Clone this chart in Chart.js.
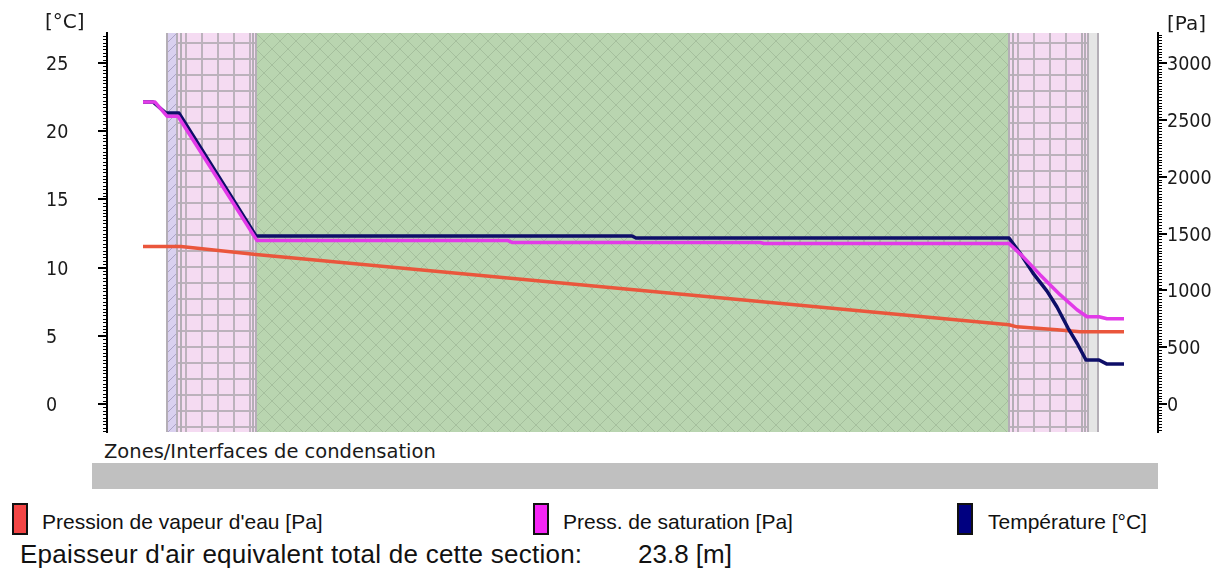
<!DOCTYPE html>
<html>
<head>
<meta charset="utf-8">
<script src="https://cdn.jsdelivr.net/npm/chart.js@4.4.1/dist/chart.umd.min.js"></script>
<style>
html,body{margin:0;padding:0;background:#fff;}
#wrap{position:relative;width:1224px;height:569px;overflow:hidden;background:#fff;}
#c{position:absolute;left:0;top:0;}
.t{position:absolute;white-space:nowrap;color:#1a1a1a;line-height:1;}
.ax{font-family:'DejaVu Sans',sans-serif;font-size:20px;}
.lg{font-family:'Liberation Sans',Arial,sans-serif;font-size:21px;color:#111;}
.sw{position:absolute;width:12px;height:28px;border:2px solid #111;}
#bar{position:absolute;left:92px;top:463px;width:1066px;height:26px;background:#c0c0c0;}
</style>
</head>
<body>
<div id="wrap">
  <canvas id="c" width="1224" height="440"></canvas>
  <div class="t ax" style="left:45px;top:11px;">[°C]</div>
  <div class="t ax" style="left:1167px;top:13px;">[Pa]</div>
  <div class="t ax" style="left:104px;top:442px;font-size:19.5px;">Zones/Interfaces de condensation</div>
  <div id="bar"></div>
  <div class="sw" style="left:12px;top:503px;background:#f24545;"></div>
  <div class="t lg" style="left:42px;top:511px;">Pression de vapeur d'eau [Pa]</div>
  <div class="sw" style="left:533px;top:503px;background:#f626f6;"></div>
  <div class="t lg" style="left:563px;top:511px;">Press. de saturation [Pa]</div>
  <div class="sw" style="left:957px;top:503px;background:#000080;"></div>
  <div class="t lg" style="left:988px;top:511px;">Température [°C]</div>
  <div class="t lg" style="left:20px;top:541px;font-size:26px;letter-spacing:0.25px;">Epaisseur d'air equivalent total de cette section:</div>
  <div class="t lg" style="left:638px;top:541px;font-size:26px;">23.8 [m]</div>
</div>
<script>
// ---- data (positions along the wall section, arbitrary units) ----
const posTemp = [36, 46, 59, 72, 149, 525, 529, 902, 913, 926, 940, 950, 961, 971, 979, 992, 1000, 1017];
const tempC   = [22.14, 22.14, 21.33, 21.33, 12.32, 12.32, 12.17, 12.17, 11.07, 9.60, 8.28, 7.11, 5.57, 4.33, 3.23, 3.23, 2.93, 2.93];

const posSat  = [36, 48, 60, 71, 150, 401, 405, 653, 657, 902, 916, 933, 953, 970, 980, 992, 1000, 1017];
const satPa   = [2656, 2656, 2532, 2532, 1438, 1438, 1421, 1421, 1412, 1412, 1297, 1138, 962, 829, 768, 768, 750, 750];

const posVap  = [36, 74, 149, 902, 910, 950, 973, 1017];
const vapPa   = [1385, 1385, 1315, 697, 679, 653, 635, 635];

const layerEdges = [60, 70, 74, 146, 149, 902, 906, 975, 978, 981, 991];
const layerKinds = ['hatch', 'grid', 'grid', 'grid', 'cross', 'grid', 'grid', 'grid', 'grid', 'plain'];

const ticksC  = [0, 5, 10, 15, 20, 25];
const ticksPa = [0, 500, 1000, 1500, 2000, 2500, 3000];
const minorC  = 0.25;
const minorPa = 25;

const xRange  = [0, 1051];
const cRange  = [-2.05, 27.2];
const paRange = [-246, 3264];

function pts(xs, ys) { return xs.map((x, i) => ({ x: x, y: ys[i] })); }

// ---- styles ----
const tickFont = { family: "'DejaVu Sans Condensed','DejaVu Sans',sans-serif", size: 19.5 };

function makePattern(ctx, kind) {
  const c = document.createElement('canvas');
  let w = 16;
  if (kind === 'hatch') w = 10;
  if (kind === 'plain') w = 4;
  c.width = w; c.height = w;
  const g = c.getContext('2d');
  if (kind === 'grid') {
    g.fillStyle = '#f5dbf2'; g.fillRect(0, 0, 16, 16);
    g.fillStyle = '#bcb2bc'; g.fillRect(0, 0, 2, 16); g.fillRect(0, 0, 16, 2);
  } else if (kind === 'hatch') {
    g.fillStyle = '#d9d0ef'; g.fillRect(0, 0, 10, 10);
    g.strokeStyle = '#aca3c6'; g.lineWidth = 1;
    g.beginPath(); g.moveTo(0, 10); g.lineTo(10, 0); g.moveTo(-1, 1); g.lineTo(1, -1); g.moveTo(9, 11); g.lineTo(11, 9); g.stroke();
  } else if (kind === 'cross') {
    g.fillStyle = '#b9d5b0'; g.fillRect(0, 0, 16, 16);
    g.strokeStyle = '#a5bf9d'; g.lineWidth = 1;
    g.beginPath(); g.moveTo(0, 0); g.lineTo(16, 16); g.moveTo(16, 0); g.lineTo(0, 16); g.stroke();
  } else {
    g.fillStyle = '#e5e5e5'; g.fillRect(0, 0, 4, 4);
  }
  return ctx.createPattern(c, 'repeat');
}

const layerPlugin = {
  id: 'layers',
  beforeDatasetsDraw(chart) {
    const ctx = chart.ctx, a = chart.chartArea, xs = chart.scales.x;
    ctx.save();
    ctx.beginPath(); ctx.rect(a.left, a.top, a.right - a.left, a.bottom - a.top); ctx.clip();
    const gridOx = xs.getPixelForValue(layerEdges[2]) + 4;
    const gridOy = a.top + 9;
    for (let i = 0; i < layerKinds.length; i++) {
      const x1 = xs.getPixelForValue(layerEdges[i]);
      const x2 = xs.getPixelForValue(layerEdges[i + 1]);
      const p = makePattern(ctx, layerKinds[i]);
      if (layerKinds[i] === 'grid') p.setTransform(new DOMMatrix([1, 0, 0, 1, gridOx, gridOy]));
      else p.setTransform(new DOMMatrix([1, 0, 0, 1, x1, a.top]));
      ctx.fillStyle = p;
      ctx.fillRect(x1, a.top, x2 - x1, a.bottom - a.top);
    }
    ctx.strokeStyle = '#b4aeb6'; ctx.lineWidth = 2;
    layerEdges.forEach((e) => {
      const x = Math.round(xs.getPixelForValue(e));
      ctx.beginPath(); ctx.moveTo(x, a.top); ctx.lineTo(x, a.bottom); ctx.stroke();
    });
    ctx.restore();
  }
};

const tickPlugin = {
  id: 'minorTicks',
  afterDraw(chart) {
    const ctx = chart.ctx, yT = chart.scales.yT, yP = chart.scales.yP;
    const L = chart.chartArea.left, R = chart.chartArea.right;
    ctx.save();
    ctx.strokeStyle = '#000';
    ctx.lineWidth = 1;
    ctx.beginPath();
    const n1 = Math.ceil(cRange[0] / minorC), n2 = Math.floor(cRange[1] / minorC);
    for (let k = n1; k <= n2; k++) {
      const y = Math.round(yT.getPixelForValue(k * minorC)) + 0.5;
      ctx.moveTo(L - 4, y); ctx.lineTo(L, y);
    }
    const m1 = Math.ceil(paRange[0] / minorPa), m2 = Math.floor(paRange[1] / minorPa);
    for (let k = m1; k <= m2; k++) {
      const y = Math.round(yP.getPixelForValue(k * minorPa)) + 0.5;
      ctx.moveTo(R, y); ctx.lineTo(R + 4, y);
    }
    ctx.stroke();
    ctx.lineWidth = 2;
    ctx.beginPath();
    ticksC.forEach((v) => { const y = Math.round(yT.getPixelForValue(v)); ctx.moveTo(L - 9, y); ctx.lineTo(L, y); });
    ticksPa.forEach((v) => { const y = Math.round(yP.getPixelForValue(v)); ctx.moveTo(R, y); ctx.lineTo(R + 9, y); });
    ctx.stroke();
    ctx.restore();
  }
};

new Chart(document.getElementById('c'), {
  type: 'line',
  data: {
    datasets: [
      { label: 'Press. de saturation [Pa]', data: pts(posSat, satPa), yAxisID: 'yP', borderColor: '#e23ae8', borderWidth: 3.5, order: 1 },
      { label: 'Température [°C]', data: pts(posTemp, tempC), yAxisID: 'yT', borderColor: '#0e0e68', borderWidth: 3.5, order: 2 },
      { label: "Pression de vapeur d'eau [Pa]", data: pts(posVap, vapPa), yAxisID: 'yP', borderColor: '#ea563c', borderWidth: 3.5, order: 3 }
    ]
  },
  options: {
    responsive: false,
    animation: false,
    devicePixelRatio: 1,
    layout: { padding: { left: 46, top: 33, right: 0, bottom: 8 } },
    elements: { point: { radius: 0 }, line: { tension: 0, fill: false, borderJoinStyle: 'round' } },
    plugins: { legend: { display: false }, tooltip: { enabled: false } },
    scales: {
      x: { type: 'linear', min: xRange[0], max: xRange[1], display: false },
      yT: {
        position: 'left', min: cRange[0], max: cRange[1],
        afterBuildTicks: (s) => { s.ticks = ticksC.map((v) => ({ value: v })); },
        afterFit: (s) => { s.width = 61; s.paddingTop = 0; s.paddingBottom = 0; },
        ticks: { crossAlign: 'far', font: tickFont, color: '#1a1a1a', labelOffset: 2, autoSkip: false, padding: 0, callback: (v) => String(v) },
        grid: { drawOnChartArea: false, drawTicks: false },
        border: { color: '#000', width: 2 }
      },
      yP: {
        position: 'right', min: paRange[0], max: paRange[1],
        afterBuildTicks: (s) => { s.ticks = ticksPa.map((v) => ({ value: v })); },
        afterFit: (s) => { s.width = 66; s.paddingTop = 0; s.paddingBottom = 0; },
        ticks: { font: tickFont, color: '#1a1a1a', labelOffset: 2, autoSkip: false, padding: 9, callback: (v) => String(v) },
        grid: { drawOnChartArea: false, drawTicks: false },
        border: { color: '#000', width: 2 }
      }
    }
  },
  plugins: [layerPlugin, tickPlugin]
});
</script>
</body>
</html>
